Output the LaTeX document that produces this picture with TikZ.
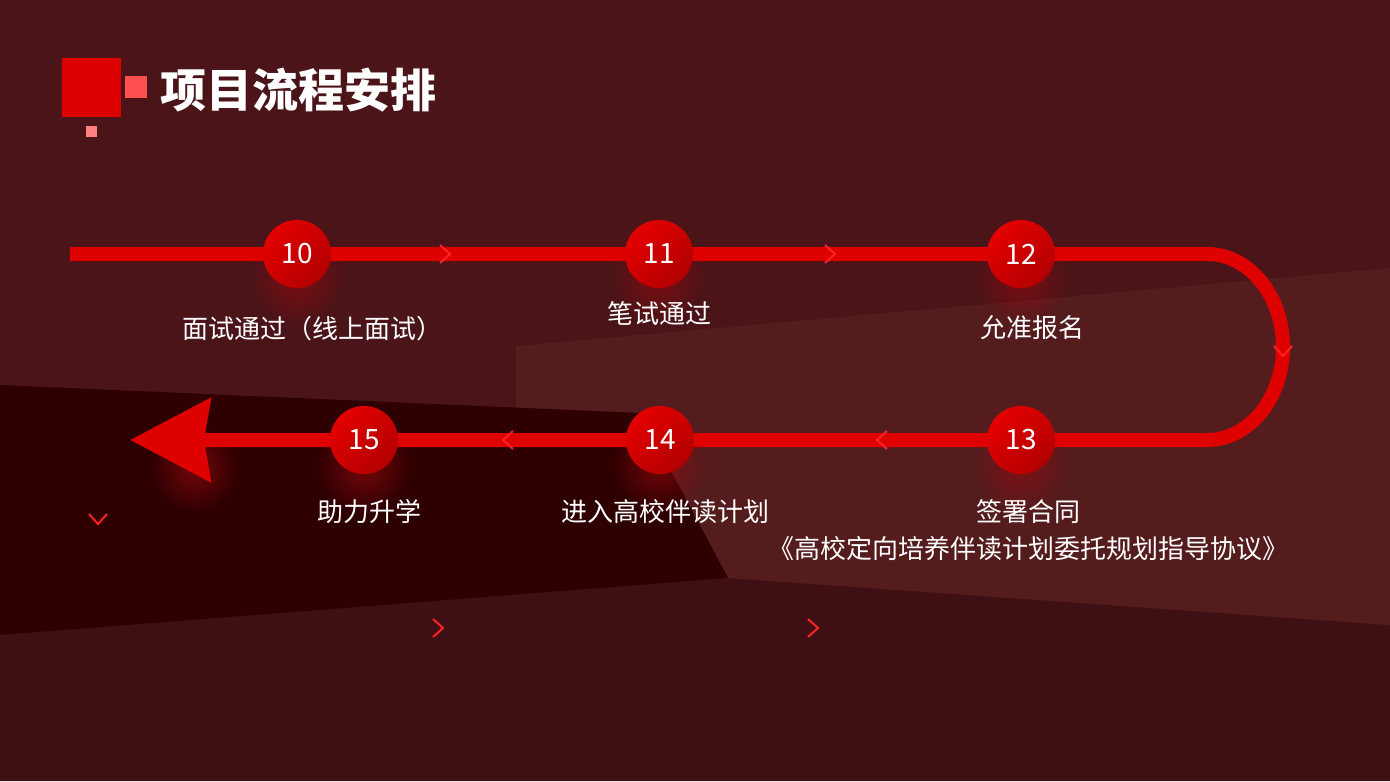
\documentclass[tikz,border=0pt]{standalone}
\usepackage{fontspec}
\setmainfont{Noto Sans CJK SC}
\usetikzlibrary{positioning,fadings,arrows.meta}

\definecolor{bgbase}{HTML}{4A1418}
\definecolor{bglow}{HTML}{3F1013}
\definecolor{bglight}{HTML}{551C1E}
\definecolor{bgdark}{HTML}{2F0002}
\definecolor{flowred}{HTML}{DF0000}
\definecolor{chevred}{HTML}{FF2222}
\definecolor{circtop}{HTML}{E40000}
\definecolor{circbot}{HTML}{B30000}
\definecolor{glowred}{HTML}{9A0A0E}
\definecolor{sqred}{HTML}{DD0000}
\definecolor{sqpink}{HTML}{FF5050}
\definecolor{sqlight}{HTML}{FF8080}

\pgfdeclarelayer{back}
\pgfdeclarelayer{flowlayer}
\pgfsetlayers{back,flowlayer,main}

\tikzfading[name=glowfade, inner color=transparent!35, outer color=transparent!100]

\tikzset{
  stepnode/.style={circle, minimum size=34pt, inner sep=0pt, text=white,
    font=\fontsize{14}{16}\selectfont, top color=circtop, bottom color=circbot, shading angle=45},
  steptext/.style={text=white, inner sep=0pt, font=\fontsize{13}{15}\selectfont},
  flow/.style={flowred, line width=7pt},
  chevron/.style={chevred, line width=1pt},
  glow/.style={fill=glowred, path fading=glowfade},
}

\begin{document}
\begin{tikzpicture}[x=0.5pt, y=-0.5pt]
\useasboundingbox (0,0) rectangle (1390,781);

% background
\begin{pgfonlayer}{back}
\fill[bgbase] (0,0) rectangle (1390,781);
\fill[bglow] (0,635) -- (728,578) -- (1390,625) -- (1390,781) -- (0,781) -- cycle;
\fill[bglight] (516,346) -- (1390,268) -- (1390,625) -- (728,578) -- (640,413) -- (516,408) -- cycle;
\fill[bgdark] (0,385) -- (640,413) -- (728,578) -- (0,635) -- cycle;
\foreach \x/\y in {297/278, 659/277, 1021/277, 1021/464, 660/464, 364/466}
  \fill[glow] (\x,\y) circle (24pt);
\fill[glow] (195,468) circle (22pt);
\end{pgfonlayer}

% title
\node[fill=sqred, minimum size=29.5pt, inner sep=0pt] (sqbig) at (91.5,87.5) {};
\node[fill=sqpink, minimum size=11pt, inner sep=0pt, right=1.5pt of sqbig] (sqmid) {};
\node[fill=sqlight, minimum size=5.5pt, inner sep=0pt, below=4pt of sqbig] (sqdot) {};
\node[text=white, font=\fontsize{23}{26}\selectfont\bfseries, anchor=west, inner sep=0pt]
  (title) at (160,90) {项目流程安排};

% steps
\node[stepnode] (n10) at (297,254) {10};
\node[stepnode] (n11) at (659,254) {11};
\node[stepnode] (n12) at (1021,254) {12};
\node[stepnode] (n13) at (1021,440) {13};
\node[stepnode] (n14) at (660,440) {14};
\node[stepnode] (n15) at (364,440) {15};

\coordinate (start) at (70,254);
\coordinate (turn) at (1207,254);
\coordinate (tip) at (130,440);

\begin{pgfonlayer}{flowlayer}
\draw[flow, -{Stealth[length=40pt, width=41pt, inset=3pt]}]
  (start) -- (n10.center) -- (n11.center) -- (n12.center) -- (turn)
  arc[start angle=90, end angle=-90, x radius=38pt, y radius=46.5pt]
  -- (n13.center) -- (n14.center) -- (n15.center) -- (tip);
\end{pgfonlayer}

% chevrons
\foreach \x/\y/\r in {445/254/0, 830/254/0, 508/440/180, 882/440/180,
    1283/351/-90, 98/519/-90, 438/628/0, 813/628/0}
  \draw[chevron, shift={(\x,\y)}, rotate=\r] (-5,-9) -- (5,0) -- (-5,9);

% labels
\node[steptext, below=13.5pt of n10, xshift=7.5pt] (l10) {面试通过（线上面试）};
\node[steptext, below=6.5pt of n11] (l11) {笔试通过};
\node[steptext, below=13.5pt of n12, xshift=5.5pt] (l12) {允准报名};
\node[steptext, below=12.5pt of n13, xshift=3.5pt] (l13) {签署合同};
\node[steptext, below=6pt of l13] (l13b) {《高校定向培养伴读计划委托规划指导协议》};
\node[steptext, below=12.5pt of n14, xshift=2.5pt] (l14) {进入高校伴读计划};
\node[steptext, below=12.5pt of n15, xshift=2.5pt] (l15) {助力升学};

\end{tikzpicture}
\end{document}
